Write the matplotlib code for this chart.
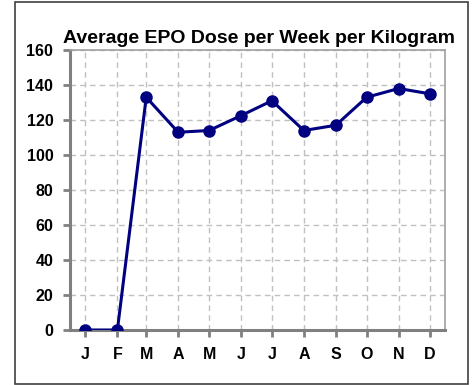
import numpy as np
import matplotlib
matplotlib.use('Agg')
from matplotlib import pyplot
from matplotlib.patches import Rectangle

months = np.arange('2023-01', '2024-01', dtype='datetime64[M]').astype('datetime64[D]')
month_labels = ['J', 'F', 'M', 'A', 'M', 'J', 'J', 'A', 'S', 'O', 'N', 'D']
epo_dose = [0, 0, 133, 113, 114, 122.5, 131, 114, 117, 133, 138, 135]

NAVY = '#000080'
AXIS_GRAY = '#808080'
GRID_GRAY = '#c0c0c0'

pyplot.rcParams['font.family'] = ['Liberation Sans', 'DejaVu Sans']

fig = pyplot.figure(figsize=(4.74, 3.85), dpi=100)
ax = fig.add_axes([70 / 474, 1 - 330 / 385, 375 / 474, 280 / 385])

# frame around the whole chart
fig.patches.append(Rectangle((15 / 474, 1 / 385), 453 / 474, 382 / 385,
                             transform=fig.transFigure, fill=False,
                             edgecolor='#404040', linewidth=1.2))

ax.plot(months, epo_dose, color=NAVY, linewidth=2.2, marker='o',
        markersize=8, zorder=3)

ax.set_ylim(0, 160)
ax.set_yticks(range(0, 161, 20))
ax.set_xlim(months[0] - np.timedelta64(15, 'D'), months[-1] + np.timedelta64(15, 'D'))
ax.set_xticks(months)
ax.set_xticklabels(month_labels)

ax.grid(color=GRID_GRAY, linestyle=(0, (4, 3)), linewidth=1)
ax.set_axisbelow(True)

ax.spines['left'].set_color(AXIS_GRAY)
ax.spines['bottom'].set_color(AXIS_GRAY)
ax.spines['left'].set_linewidth(2.2)
ax.spines['bottom'].set_linewidth(2.2)
ax.spines['top'].set_color('#a0a0a0')
ax.spines['right'].set_color('#a0a0a0')
ax.spines['top'].set_linewidth(1.2)
ax.spines['right'].set_linewidth(1.2)

ax.tick_params(axis='both', color=AXIS_GRAY, width=2, length=5, labelsize=11.5)
ax.tick_params(axis='x', pad=7)
ax.tick_params(axis='y', pad=7)
for lbl in ax.get_xticklabels() + ax.get_yticklabels():
    lbl.set_fontweight('bold')

fig.text(259 / 474, 1 - 38.5 / 385, 'Average EPO Dose per Week per Kilogram',
         ha='center', va='center', fontsize=14, fontweight='bold')

fig.savefig('out.png', dpi=100)
